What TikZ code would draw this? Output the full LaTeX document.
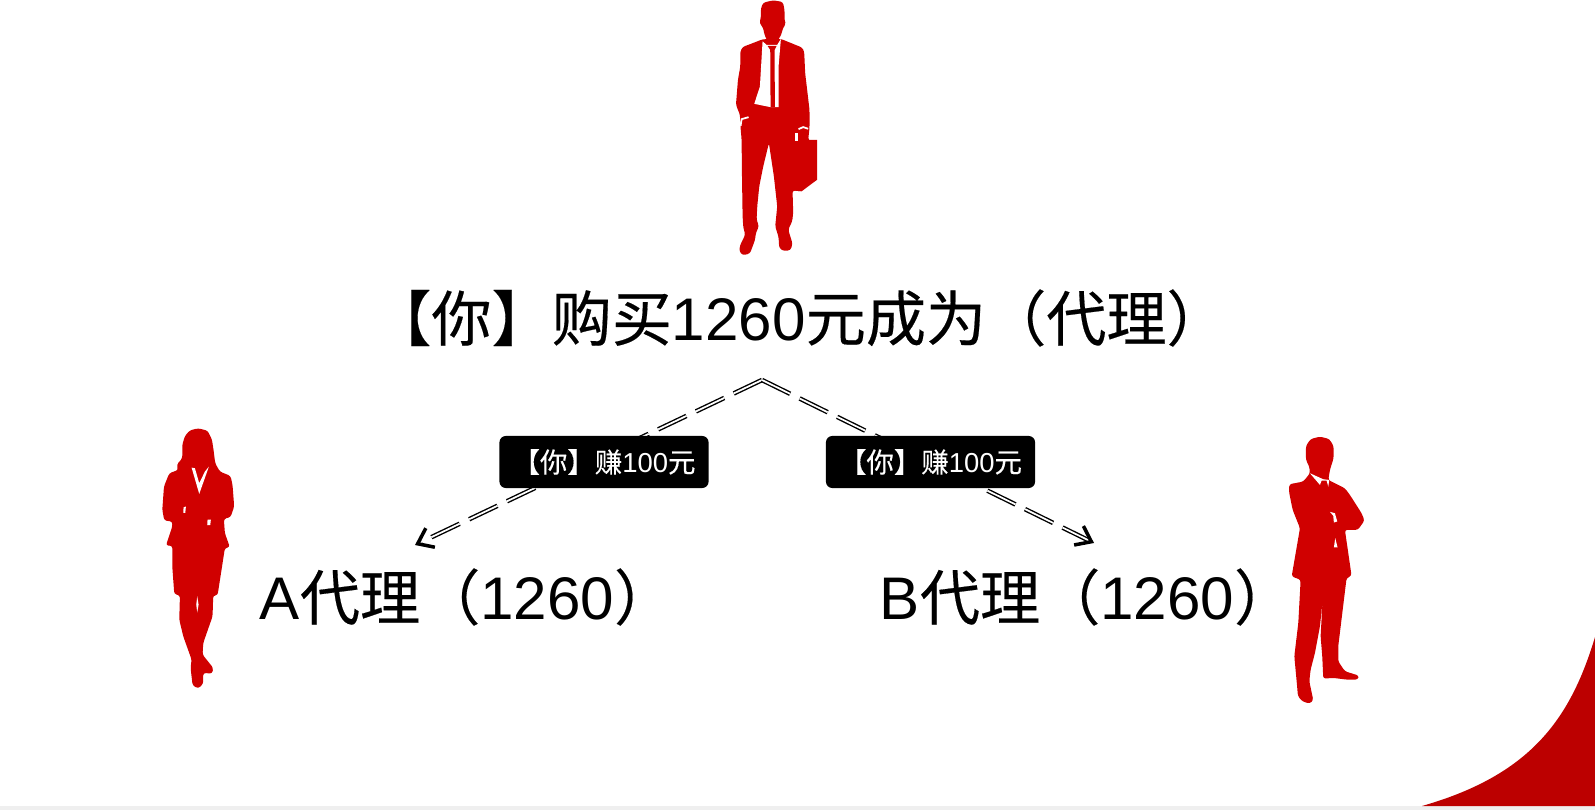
\documentclass[tikz,border=0pt]{standalone}
\usepackage{fontspec}
\setmainfont{Liberation Sans}
\newfontfamily\cjk[FakeBold=0.3]{Noto Sans CJK SC}
\usetikzlibrary{arrows.meta}
\definecolor{figred}{HTML}{D00000}
\definecolor{cornerred}{HTML}{BC0000}
\definecolor{stripgray}{HTML}{EFEFEF}
\tikzset{
  bigtext/.style={font=\fontsize{17.1}{20}\selectfont, inner sep=0},
  earnbox/.style={fill=black, text=white, rounded corners=1.8pt, minimum width=2.09cm, minimum height=0.52cm, inner sep=0, font=\fontsize{7.8}{9}\selectfont},
  link/.style={double, double distance=0.5pt, line width=0.4pt, dash pattern=on 8.9pt off 3pt, -{Straight Barb[length=4pt,width=6pt,line width=1pt]}},
  outline/.style={fill=figred, rounded corners=0.7pt},
  zoomed/.style={x=0.0033333cm, y=-0.0033333cm}
}
\begin{document}
\begin{tikzpicture}[x=0.01cm,y=-0.01cm]
\useasboundingbox (0,0) rectangle (1595,810);
\fill[white] (0,0) rectangle (1595,810);
\fill[stripgray] (0,806) rectangle (1595,810);
\fill[cornerred] (1595,637) .. controls (1570,720) and (1530,775) .. (1422,806) -- (1595,806) -- cycle;

% man with the briefcase
\begin{scope}[shift={(700,0)},zoomed]
\fill[outline] (188,118) -- (150,133) -- (128,141) -- (121,155) -- (121,200) -- (114,240) -- (108,315) -- (120,345) -- (122,385) -- (125,420) -- (126,520) -- (128,650) -- (130,683) -- (136,705) -- (120,738) -- (118,755) -- (128,767) -- (150,762) -- (165,722) -- (168,700) -- (177,680) -- (170,660) -- (172,620) -- (178,560) -- (190,500) -- (207,430) -- (222,530) -- (232,620) -- (226,680) -- (236,712) -- (238,745) -- (250,754) -- (272,752) -- (278,732) -- (265,690) -- (277,665) -- (280,640) -- (278,572) -- (305,575) -- (340,540) -- (340,430) -- (325,420) -- (329,385) -- (329,330) -- (316,220) -- (313,155) -- (307,143) -- (243,117) -- cycle;
\fill[figred] (275,420) -- (352,420) -- (352,540) -- (305,575) -- (275,572) -- cycle;
\fill[white] (188,124) -- (200,135) -- (232,135) -- (243,117) -- (236,200) -- (236,322) -- (226,322) -- (212,322) -- (163,312) -- (180,260) -- cycle;
\fill[figred] (203,138) -- (230,138) -- (224,150) -- (225,322) -- (212,322) -- (211,150) -- cycle;
\fill[outline] (190,8) -- (220,1) -- (249,6) -- (254,30) -- (254,62) -- (258,72) -- (249,85) -- (244,105) -- (228,130) -- (205,130) -- (194,105) -- (189,82) -- (179,70) -- (183,50) -- (183,25) -- cycle;
\draw[white, line width=0.5pt] (122,378) -- (125,358) -- (146,352);
\draw[white, line width=0.5pt] (296,388) -- (310,382) -- (325,387);
\fill[white] (284,400) rectangle (295,425);
\end{scope}

% woman
\begin{scope}[shift={(140,420)},zoomed]
\fill[outline] (175,25) -- (203,32) -- (216,58) -- (221,90) -- (226,130) -- (240,155) -- (272,168) -- (278,195) -- (283,260) -- (272,292) -- (252,297) -- (255,340) -- (270,382) -- (255,385) -- (245,450) -- (233,527) -- (220,527) -- (218,590) -- (190,670) -- (188,705) -- (220,745) -- (217,762) -- (190,760) -- (190,792) -- (175,807) -- (158,797) -- (152,745) -- (155,720) -- (130,650) -- (118,600) -- (120,527) -- (103,523) -- (97,440) -- (97,378) -- (78,377) -- (97,320) -- (97,305) -- (73,302) -- (67,270) -- (72,200) -- (88,160) -- (115,150) -- (110,135) -- (127,115) -- (127,75) -- (135,48) -- (150,31) -- cycle;
\fill[white] (155,143) -- (165,145) -- (178,190) -- (195,155) -- (207,140) -- (178,222) -- cycle;
\fill[white] (131,262) -- (138,260) -- (136,279) -- (130,279) -- cycle;
\fill[white] (203,299) -- (213,299) -- (211,316) -- (202,316) -- cycle;
\fill[white] (172,530) -- (176,555) -- (172,578) -- (169,555) -- cycle;
\end{scope}

% man with crossed arms
\begin{scope}[shift={(1270,430)},zoomed]
\fill[outline] (150,20) -- (178,27) -- (191,48) -- (191,85) -- (180,120) -- (175,150) -- (225,175) -- (240,195) -- (275,250) -- (284,272) -- (264,300) -- (225,300) -- (245,438) -- (230,445) -- (205,650) -- (205,695) -- (225,725) -- (267,738) -- (264,750) -- (230,750) -- (190,745) -- (160,747) -- (157,680) -- (152,620) -- (158,512) -- (150,590) -- (135,670) -- (122,720) -- (118,755) -- (130,812) -- (120,822) -- (98,816) -- (84,800) -- (80,755) -- (73,680) -- (85,580) -- (92,450) -- (65,440) -- (90,295) -- (68,240) -- (57,185) -- (58,163) -- (100,155) -- (120,130) -- (118,110) -- (108,90) -- (108,48) -- (122,27) -- cycle;
\fill[white] (120,130) -- (150,165) -- (155,152) -- (170,152) -- (175,170) -- (178,150) -- (160,148) -- cycle;
\fill[white] (180,246) -- (195,250) -- (202,275) -- (192,278) -- (190,258) -- cycle;
\fill[white] (196,325) -- (203,353) -- (192,353) -- cycle;
\end{scope}

\node[bigtext] (you) at (799,318) {{\cjk 【你】购买}1260{\cjk 元成为（代理）}};
\node[bigtext] (agenta) at (467,597) {A{\cjk 代理（}1260{\cjk ）}};
\node[bigtext] (agentb) at (1087,597) {B{\cjk 代理（}1260{\cjk ）}};

\coordinate (apex) at (762,380);
\coordinate (enda) at (415,545);
\coordinate (endb) at (1094,543);
\draw[link] (apex) -- (enda);
\draw[link] (apex) -- (endb);

\node[earnbox] (earna) at (604,462) {{\cjk 【你】赚}100{\cjk 元}};
\node[earnbox] (earnb) at (930.5,462) {{\cjk 【你】赚}100{\cjk 元}};
\end{tikzpicture}
\end{document}
